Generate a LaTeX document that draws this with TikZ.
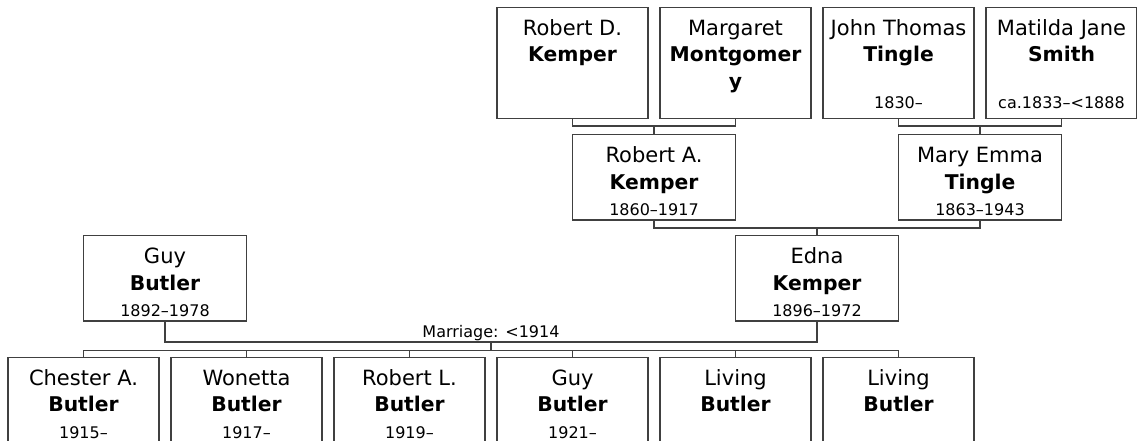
\documentclass[tikz,border=0pt]{standalone}
\usepackage{fontspec}
\setmainfont{DejaVu Sans}
\newcommand{\yearfont}{\fontsize{16}{19}\selectfont}
\newcommand{\surname}[1]{{\fontsize{20.3}{26.5}\selectfont\bfseries #1}}

\begin{document}
\begin{tikzpicture}[x=1pt, y=-1pt,
  link/.style={draw=black!75, line width=1.3pt},
  person/.style 2 args={link, inner sep=0pt,
    execute at begin node={\begin{minipage}[c][#2pt][t]{#1pt}\centering
      \fontsize{21}{26.5}\selectfont\rule{0pt}{28pt}\ignorespaces},
    execute at end node={\rule[-10pt]{0pt}{10pt}\end{minipage}}},
  elder/.style={person={151}{111.4}},
  parent/.style={person={163}{85.3}},
  child/.style={person={151}{85.3}}]
  \useasboundingbox (0,0) rectangle (1137,441);
  \clip (0,0) rectangle (1137,441);
  % great-grandparents
  \node[elder] (rdk) at (572.5,63) {Robert D.\\\surname{Kemper}};
  \node[elder] (mmo) at (735.5,63) {Margaret\\\surname{Montgomer\\y}};
  \node[elder] (jtt) at (898.5,63) {John Thomas\\\surname{Tingle}\par\vfill\yearfont 1830–};
  \node[elder] (mjs) at (1061.5,63) {Matilda Jane\\\surname{Smith}\par\vfill\yearfont ca.1833–<1888};
  % grandparents
  \node[parent] (rak) at (654,177.35) {Robert A.\\\surname{Kemper}\par\vfill\yearfont 1860–1917};
  \node[parent] (met) at (980,177.35) {Mary Emma\\\surname{Tingle}\par\vfill\yearfont 1863–1943};
  \coordinate (k1) at (654,126);
  \draw[link] (rdk.south) |- (k1) -| (mmo.south);
  \draw[link] (k1) -- (rak.north);
  \coordinate (k2) at (980,126);
  \draw[link] (jtt.south) |- (k2) -| (mjs.south);
  \draw[link] (k2) -- (met.north);
  % parents
  \node[parent] (gbu) at (165,278.35) {Guy\\\surname{Butler}\par\vfill\yearfont 1892–1978};
  \node[parent] (eke) at (817,278.35) {Edna\\\surname{Kemper}\par\vfill\yearfont 1896–1972};
  \coordinate (k3) at (817,228);
  \draw[link] (rak.south) |- (k3) -| (met.south);
  \draw[link] (k3) -- (eke.north);
  % marriage and children
  \coordinate (m) at (491,342);
  \draw[link] (gbu.south) |- (m) -| (eke.south);
  \node[anchor=base, font=\fontsize{16}{18}\selectfont] (marr) at ([yshift=5pt]m) {Marriage: <1914};
  \node[child] (cab) at (83.5,399.95) {Chester A.\\\surname{Butler}\par\vfill\yearfont 1915–};
  \node[child] (wbu) at (246.5,399.95) {Wonetta\\\surname{Butler}\par\vfill\yearfont 1917–};
  \node[child] (rlb) at (409.5,399.95) {Robert L.\\\surname{Butler}\par\vfill\yearfont 1919–};
  \node[child] (gyb) at (572.5,399.95) {Guy\\\surname{Butler}\par\vfill\yearfont 1921–};
  \node[child] (lb1) at (735.5,399.95) {Living\\\surname{Butler}};
  \node[child] (lb2) at (898.5,399.95) {Living\\\surname{Butler}};
  \coordinate (kids) at (491,350.7);
  \draw[link] (m) -- (kids);
  \draw[link] (cab.north) |- (kids) -| (lb2.north);
  \foreach \kid in {wbu,rlb,gyb,lb1}
    \draw[link] (\kid.north) -- (\kid.north |- kids);
\end{tikzpicture}
\end{document}
